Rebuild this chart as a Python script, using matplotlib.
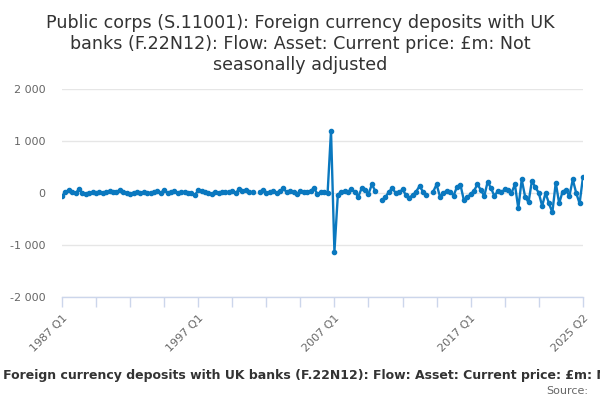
import matplotlib
matplotlib.use("Agg")
import matplotlib.pyplot as plt
import numpy as np

# ---- data ----
quarters = [f"{y} Q{q}" for y in range(1987, 2026) for q in range(1, 5)][:154]
values = [
    -60, 10, 60, 20, 0, 70, 0, -10, 5, 10,
    0, 10, 5, 15, 40, 10, 20, 60, 15, 0,
    -10, 5, 10, 5, 10, 5, 0, 10, 40, 0,
    60, 0, 10, 40, -5, 10, 25, 5, -5, -40,
    50, 40, 20, 5, -20, 10, 5, 10, 10, 20,
    30, 0, 70, 40, 50, 10, 10, None, 25, 50,
    0, 20, 40, -5, 30, 90, 10, 45, 20, -20,
    30, 25, 20, 40, 95, -20, 10, 10, 0, 1200,
    -1130, -40, 25, 30, 20, 70, 20, -70, 90, 60,
    -20, 165, 40, None, -135, -80, 25, 90, 0, 10,
    70, -40, -90, -40, 25, 135, 25, -30, None, 25,
    165, -70, 0, 45, 25, -50, 120, 160, -135, -80,
    -25, 45, 165, 60, -60, 215, 90, -60, 45, 10,
    70, 55, 0, 165, -295, 260, -70, -180, 235, 110,
    5, -250, 0, -200, -375, 200, -200, 25, 60, -60,
    260, 0, -200, 310,
]
yticks = [-2000, -1000, 0, 1000, 2000]
ytick_labels = ["-2 000", "-1 000", "0", "1 000", "2 000"]
xtick_labels = {0: "1987 Q1", 40: "1997 Q1", 80: "2007 Q1", 120: "2017 Q1", 153: "2025 Q2"}

title = ("Public corps (S.11001): Foreign currency deposits with UK\n"
         "banks (F.22N12): Flow: Asset: Current price: £m: Not\n"
         "seasonally adjusted")
caption = ("Public corps (S.11001): Foreign currency deposits with UK banks (F.22N12): "
           "Flow: Asset: Current price: £m: Not seasonally adjusted")

# ---- plot ----
fig = plt.figure(figsize=(6, 4), dpi=100)
ax = fig.add_axes([62/600, 103/400, 521/600, 208/400])

x = np.arange(len(values))
y = np.array([np.nan if v is None else v for v in values], dtype=float)
color = "#0a78bf"
ax.plot(x, y, color=color, lw=1.7, marker="o", ms=3.0, mec=color, mfc=color, zorder=3)

ax.set_xlim(0, len(values) - 1)
ax.set_ylim(-2000, 2000)
ax.set_yticks(yticks)
ax.set_yticklabels(ytick_labels)
ax.grid(axis="y", color="#e6e6e6", lw=1)
ax.set_axisbelow(True)

for s in ["top", "right", "left"]:
    ax.spines[s].set_visible(False)
ax.spines["bottom"].set_color("#ccd6eb")
ax.spines["bottom"].set_linewidth(1)

major = list(range(0, 141, 10)) + [153]
ax.set_xticks(major)
ax.set_xticklabels([xtick_labels.get(i, "") for i in major], rotation=45,
                   ha="right", va="top", rotation_mode="anchor")
ax.tick_params(axis="x", length=7.5, color="#ccd6eb", width=1, labelsize=8, labelcolor="#666666", pad=4)
ax.tick_params(axis="y", length=0, labelsize=8, labelcolor="#666666", pad=12)

fig.text(0.5, 1 - 14/400, title, ha="center", va="top", fontsize=12.6, color="#333333",
         linespacing=1.2)
fig.text(0.5, 1 - 375/400, caption, ha="center", va="center", fontsize=9.0, fontweight="bold",
         color="#333333")
fig.text(588/600, 1 - 391/400, "Source:", ha="right", va="center", fontsize=8, color="#666666")

fig.savefig("out.png", dpi=100)
